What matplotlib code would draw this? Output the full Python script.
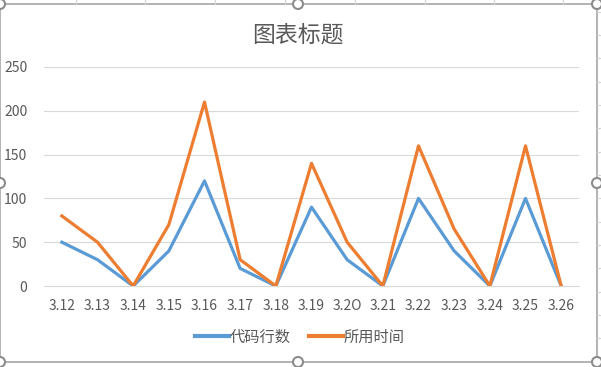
import matplotlib
matplotlib.use("Agg")
import matplotlib.pyplot as plt
from matplotlib.patches import Circle, Rectangle
from matplotlib.lines import Line2D

plt.rcParams['font.family'] = ['Noto Sans CJK SC', 'DejaVu Sans']

categories = ["3.12", "3.13", "3.14", "3.15", "3.16", "3.17", "3.18", "3.19",
              "3.2O", "3.21", "3.22", "3.23", "3.24", "3.25", "3.26"]
code_lines = [50, 30, 0, 40, 120, 20, 0, 90, 30, 0, 100, 40, 0, 100, 0]
time_used = [80, 50, 0, 70, 210, 30, 0, 140, 50, 0, 160, 65, 0, 160, 0]
series_names = ["代码行数", "所用时间"]
yticks = [0, 50, 100, 150, 200, 250]
title = "图表标题"

W, H = 601, 367
fig = plt.figure(figsize=(W / 100, H / 100), dpi=100)
fig.patch.set_facecolor("white")

# Spreadsheet grid outside the chart frame
bg = fig.add_axes([0, 0, 1, 1], zorder=-5)
bg.set_xlim(0, W); bg.set_ylim(H, 0); bg.axis("off")
for x in [76, 145, 215, 285, 355, 425, 494, 563]:
    bg.plot([x, x], [0, 4], color="#D4D4D4", lw=0.8)
for y in [12, 35, 58, 82, 105, 128, 152, 175, 198, 222, 245, 268, 292, 315, 338]:
    bg.plot([597, W], [y, y], color="#D4D4D4", lw=0.8)
bg.add_patch(Rectangle((0, 4), 597, 358, fill=False, edgecolor="#A6A6A6", lw=1.2))

ax = fig.add_axes([44 / W, 1 - 286 / H, (579 - 44) / W, (286 - 67) / H])
x = list(range(len(categories)))
blue = "#5B9BD5"
orange = "#ED7D31"
ax.plot(x, code_lines, color=blue, lw=2.3, solid_joinstyle="round", zorder=3)
ax.plot(x, time_used, color=orange, lw=2.3, solid_joinstyle="round", zorder=4)

ax.set_xlim(-0.5, len(categories) - 0.5)
ax.set_ylim(0, 250)
ax.set_yticks(yticks)
ax.set_yticklabels([str(v) for v in yticks])
ax.set_xticks(x)
ax.set_xticklabels(categories)
ax.grid(axis="y", color="#D9D9D9", lw=0.8)
ax.set_axisbelow(True)
for s in ["top", "right", "left"]:
    ax.spines[s].set_visible(False)
ax.spines["bottom"].set_color("#D9D9D9")
ax.spines["bottom"].set_linewidth(0.8)
ax.tick_params(axis="both", length=0, colors="#595959", labelsize=10)
ax.tick_params(axis="y", pad=12)
ax.tick_params(axis="x", pad=9)

fig.text(298 / W, 1 - 35 / H, title, ha="center", va="center",
         fontsize=16.5, color="#595959")

handles = [Line2D([0], [0], color=blue, lw=3),
           Line2D([0], [0], color=orange, lw=3)]
fig.legend(handles, series_names, loc="center", bbox_to_anchor=(300 / W, 1 - 337 / H),
           ncol=2, frameon=False, fontsize=11, labelcolor="#595959",
           handlelength=2.2, handletextpad=0.05, columnspacing=1.2)

# Selection handles
top = fig.add_axes([0, 0, 1, 1], zorder=10)
top.set_xlim(0, W); top.set_ylim(H, 0); top.axis("off")
for (cx, cy) in [(0, 4), (298, 4), (597, 4), (0, 183), (597, 183),
                 (0, 362), (298, 362), (597, 362)]:
    top.add_patch(Circle((cx, cy), 5, facecolor="white", edgecolor="#8C8C8C", lw=1.5))

fig.savefig("out.png", dpi=100, facecolor="white")
